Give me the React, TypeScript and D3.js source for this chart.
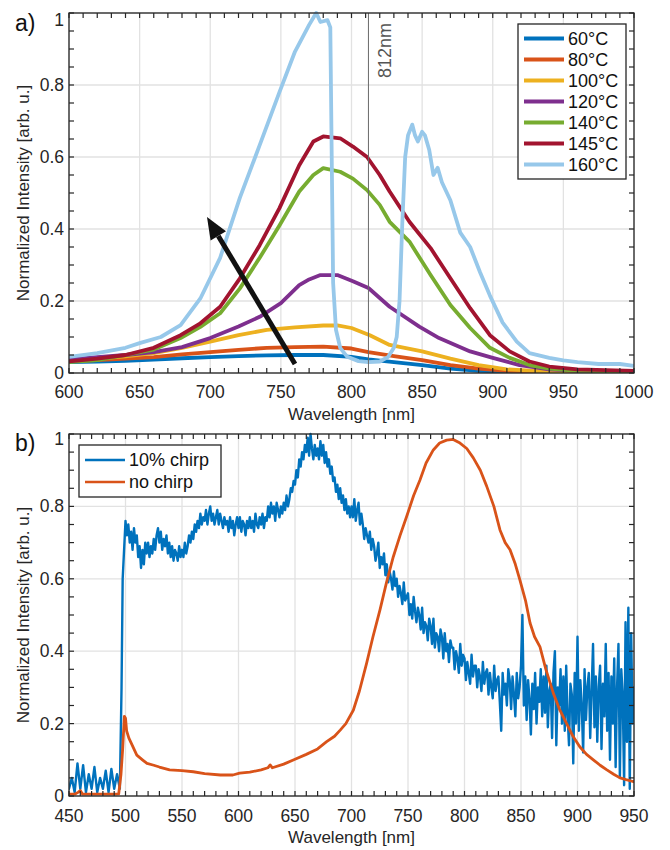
import React from 'react';
import * as d3 from 'd3';

type Pt = [number, number];

const FONT = "'Liberation Sans', Arial, Helvetica, sans-serif";

// ---------- Panel a data ----------
const TEMP_LABELS = ['60°C', '80°C', '100°C', '120°C', '140°C', '145°C', '160°C'];
const TEMP_COLORS = ['#0072BD', '#D95319', '#EDB120', '#7E2F8E', '#77AC30', '#A2142F', '#97C8EA'];

const T60: Pt[] = [[600,0.03],[620,0.032],[640,0.034],[660,0.037],[680,0.041],[700,0.044],[720,0.047],[740,0.049],[760,0.05],[780,0.05],[800,0.045],[812,0.038],[830,0.03],[850,0.022],[870,0.012],[890,0.006],[920,0.003],[950,0.002],[1000,0.002]];
const T80: Pt[] = [[600,0.033],[620,0.036],[640,0.04],[660,0.044],[680,0.052],[700,0.058],[720,0.064],[740,0.07],[760,0.072],[780,0.073],[800,0.068],[812,0.058],[830,0.047],[850,0.036],[870,0.022],[890,0.012],[910,0.006],[940,0.003],[1000,0.002]];
const T100: Pt[] = [[600,0.035],[620,0.04],[640,0.046],[660,0.055],[680,0.07],[700,0.087],[720,0.105],[740,0.12],[760,0.127],[780,0.132],[790,0.132],[800,0.125],[813,0.105],[827,0.078],[850,0.06],[870,0.04],[890,0.022],[910,0.01],[940,0.004],[1000,0.002]];
const T120: Pt[] = [[600,0.038],[620,0.044],[640,0.05],[660,0.058],[680,0.072],[700,0.097],[720,0.129],[735,0.156],[750,0.194],[763,0.244],[770,0.26],[778,0.272],[790,0.272],[801,0.255],[812,0.236],[827,0.184],[848,0.129],[862,0.097],[884,0.06],[900,0.042],[919,0.022],[940,0.01],[970,0.004],[1000,0.003]];
const T140: Pt[] = [[600,0.03],[620,0.036],[640,0.05],[660,0.065],[679,0.097],[693,0.128],[707,0.166],[721,0.235],[735,0.32],[749,0.41],[763,0.504],[773,0.55],[780,0.569],[792,0.559],[801,0.54],[811,0.508],[820,0.467],[827,0.42],[841,0.365],[856,0.272],[870,0.189],[884,0.125],[898,0.07],[912,0.042],[926,0.022],[940,0.012],[960,0.006],[1000,0.004]];
const T145: Pt[] = [[600,0.032],[620,0.04],[640,0.05],[660,0.07],[679,0.105],[693,0.138],[707,0.184],[721,0.263],[735,0.355],[749,0.458],[763,0.577],[773,0.643],[780,0.657],[792,0.652],[801,0.629],[811,0.6],[820,0.55],[827,0.504],[841,0.42],[856,0.347],[870,0.263],[884,0.18],[898,0.105],[912,0.06],[926,0.032],[940,0.018],[960,0.01],[1000,0.006]];
const T160: Pt[] = [[600,0.045],[620,0.055],[640,0.07],[650,0.083],[665,0.1],[679,0.133],[693,0.207],[707,0.32],[721,0.487],[735,0.633],[749,0.78],[760,0.893],[770,0.967],[775,1.0],[778,0.975],[783,0.98],[785,0.96],[786,0.6],[787,0.25],[789,0.12],[792,0.07],[797,0.045],[805,0.033],[812,0.03],[820,0.032],[826,0.045],[830,0.07],[832,0.1],[834,0.2],[836,0.42],[838,0.6],[840,0.66],[843,0.69],[845,0.66],[847,0.643],[850,0.67],[852,0.66],[855,0.62],[858,0.55],[861,0.57],[864,0.53],[870,0.48],[877,0.39],[884,0.35],[891,0.28],[898,0.215],[907,0.14],[917,0.087],[926,0.055],[940,0.042],[950,0.035],[960,0.03],[975,0.025],[990,0.025],[1000,0.02]];
const TEMP_SERIES = [T60, T80, T100, T120, T140, T145, T160];

const A_XTICKS = [600, 650, 700, 750, 800, 850, 900, 950, 1000];
const MARK_NM = 812;
const MARK_LABEL = '812nm';
const ARROW_FROM: Pt = [760, 0.025];
const ARROW_TO: Pt = [697.7, 0.433];

// ---------- Panel b data ----------
const CHIRP_LABELS = ['10% chirp', 'no chirp'];
const CHIRP_COLORS = ['#0072BD', '#D95319'];
const B_XTICKS = [450, 500, 550, 600, 650, 700, 750, 800, 850, 900, 950];

// 10% chirp, 450–497.5 nm (read as pairs)
const CHIRP10_EDGE: Pt[] = [
[450,0.02],[452.5,0.05],[455,0.01],[457.5,0.09],[460,0.02],[462.5,0.085],[465,0.01],[467.5,0.06],[470,0.02],[472.5,0.08],[475,0.01],[477.5,0.05],[480,0.02],[482.5,0.07],[485,0.01],[487.5,0.075],[490,0.02],[492.5,0.06],[495,0.02],[496.5,0.3],[497.5,0.6]
];
// 10% chirp, 500–950 nm read every 1.25 nm
const CHIRP10_FROM = 500;
const CHIRP10_STEP = 1.25;
const CHIRP10_VALUES = [
.76,.72,.75,.7,.73,.68,.74,.7,
.72,.66,.69,.63,.68,.64,.7,.67,
.7,.66,.69,.67,.71,.68,.72,.74,
.7,.73,.68,.71,.69,.72,.67,.7,
.66,.69,.65,.68,.67,.65,.69,.66,
.68,.66,.7,.67,.69,.72,.7,.73,
.71,.75,.73,.76,.74,.78,.75,.77,
.76,.79,.75,.78,.8,.76,.78,.75,
.77,.79,.75,.78,.76,.74,.77,.75,
.76,.73,.77,.74,.76,.72,.75,.77,
.74,.77,.73,.76,.75,.72,.76,.74,
.77,.74,.76,.73,.78,.75,.74,.77,
.75,.78,.74,.77,.76,.8,.77,.81,
.78,.8,.76,.81,.79,.77,.8,.78,
.81,.79,.83,.8,.82,.85,.84,.87,
.86,.9,.88,.93,.91,.95,.93,.97,
.95,.99,.94,1.0,.96,.93,.97,.94,
.96,.93,.98,.94,.97,.92,.95,.91,
.93,.89,.91,.87,.88,.84,.86,.82,
.85,.81,.83,.79,.82,.78,.8,.77,
.8,.77,.82,.76,.79,.81,.75,.78,
.75,.71,.74,.72,.7,.73,.68,.71,
.69,.65,.67,.7,.63,.66,.64,.67,
.61,.64,.59,.62,.6,.57,.62,.58,
.6,.55,.58,.56,.53,.59,.54,.55,
.56,.5,.53,.49,.55,.51,.48,.52,
.5,.46,.52,.45,.48,.47,.43,.49,
.47,.42,.49,.41,.45,.44,.4,.46,
.44,.38,.45,.4,.42,.37,.43,.41,
.41,.35,.4,.38,.34,.42,.36,.39,
.38,.32,.37,.34,.31,.39,.33,.36,
.36,.3,.35,.33,.29,.37,.31,.34,
.35,.28,.34,.3,.27,.36,.29,.32,
.33,.26,.18,.34,.28,.31,.25,.35,
.32,.24,.33,.28,.22,.34,.27,.3,
.36,.5,.25,.33,.21,.32,.27,.17,
.31,.24,.34,.2,.3,.26,.35,.22,
.33,.23,.36,.19,.29,.31,.16,.34,
.4,.14,.3,.25,.35,.2,.33,.18,
.36,.22,.14,.31,.28,.09,.34,.2,
.44,.18,.32,.25,.12,.35,.21,.3,
.34,.16,.29,.42,.19,.33,.15,.3,
.36,.13,.31,.22,.42,.18,.34,.1,
.33,.2,.38,.08,.3,.42,.05,.35,
.28,.03,.48,.15,.52,.02,.45,.2,
.3
];

const NOCHIRP: Pt[] = [[450,0.005],[455,0.005],[458,0.01],[460,0.015],[462,0.005],[470,0.005],[480,0.005],[490,0.005],[494,0.006],[496,0.06],[497.5,0.13],[499,0.22],[500,0.215],[501,0.18],[503,0.16],[506,0.14],[510,0.113],[515,0.1],[519,0.09],[525,0.085],[530,0.08],[539,0.072],[550,0.07],[560,0.067],[570,0.062],[584,0.058],[595,0.058],[601,0.063],[610,0.066],[620,0.072],[626,0.078],[628,0.086],[630,0.078],[640,0.088],[649,0.1],[660,0.115],[670,0.13],[678,0.15],[685,0.165],[690,0.182],[695,0.2],[701.6,0.237],[707,0.29],[713.4,0.367],[719,0.44],[725.2,0.514],[731,0.59],[737,0.661],[743,0.72],[748.8,0.772],[755,0.83],[760.6,0.873],[766,0.92],[772.4,0.956],[778,0.975],[784.2,0.983],[790,0.985],[796,0.975],[802,0.96],[807.8,0.934],[814,0.9],[819.6,0.856],[826,0.8],[831.4,0.735],[836,0.7],[840.3,0.68],[845,0.64],[849,0.597],[854,0.54],[858,0.478],[862,0.44],[866.8,0.412],[872,0.35],[878.6,0.284],[884,0.24],[890.4,0.2],[896,0.165],[902,0.136],[908,0.115],[914,0.1],[920,0.085],[926,0.072],[932,0.06],[937.6,0.05],[943,0.045],[949,0.04],[950,0.04]];

const Y_TICKS = [0, 0.2, 0.4, 0.6, 0.8, 1];
const Y_TICK_LABELS = ['0', '0.2', '0.4', '0.6', '0.8', '1'];
const X_LABEL = 'Wavelength [nm]';
const Y_LABEL = 'Normalized Intensity [arb. u.]';

type Series = { data: Pt[]; color: string; width: number; label: string };

type PanelProps = {
  id: string;
  box: { left: number; top: number; right: number; bottom: number };
  xDomain: [number, number];
  xTicks: number[];
  series: Series[];
  tag: string;
  tagY: number;
  tickLabelY: number;
  xLabelY: number;
  topLabelShift: number;
  legend: { x: number; y: number; w: number; rowH: number; lineLen: number; lineW: number };
  extra?: (x: d3.ScaleLinear<number, number>, y: d3.ScaleLinear<number, number>) => React.ReactNode;
};

function Panel(p: PanelProps) {
  const { left, top, right, bottom } = p.box;
  const x = d3.scaleLinear().domain(p.xDomain).range([left, right]);
  const y = d3.scaleLinear().domain([0, 1]).range([bottom, top]);
  const line = d3.line<Pt>().x(d => x(d[0])).y(d => y(d[1]));
  const xMinor = d3.range(p.xDomain[0], p.xDomain[1] + 0.001, 10);
  const yMinor = d3.range(0, 1.0001, 0.05);
  const tl = 5;
  const axisColor = '#262626';
  const clipId = `clip-${p.id}`;
  const lg = p.legend;
  const legH = lg.rowH * p.series.length + 8;
  return (
    <g>
      <defs>
        <clipPath id={clipId}>
          <rect x={left} y={top - 2} width={right - left} height={bottom - top + 2} />
        </clipPath>
      </defs>
      <rect x={left} y={top} width={right - left} height={bottom - top} fill="#fff" />
      {p.xTicks.map(t => (
        <line key={'gx' + t} x1={x(t)} x2={x(t)} y1={top} y2={bottom} stroke="#e2e2e2" strokeWidth={1.3} />
      ))}
      {Y_TICKS.map(t => (
        <line key={'gy' + t} x1={left} x2={right} y1={y(t)} y2={y(t)} stroke="#e2e2e2" strokeWidth={1.3} />
      ))}
      <g clipPath={`url(#${clipId})`}>
        {p.series.map((s, i) => (
          <path key={i} d={line(s.data) || ''} fill="none" stroke={s.color} strokeWidth={s.width} strokeLinejoin="round" strokeLinecap="round" />
        ))}
      </g>
      {p.extra && p.extra(x, y)}
      <rect x={left} y={top} width={right - left} height={bottom - top} fill="none" stroke={axisColor} strokeWidth={1.3} />
      {xMinor.map(t => (
        <g key={'tx' + t}>
          <line x1={x(t)} x2={x(t)} y1={bottom} y2={bottom - tl} stroke={axisColor} strokeWidth={1.2} />
          <line x1={x(t)} x2={x(t)} y1={top} y2={top + tl} stroke={axisColor} strokeWidth={1.2} />
        </g>
      ))}
      {yMinor.map(t => (
        <g key={'ty' + t}>
          <line x1={left} x2={left + tl} y1={y(t)} y2={y(t)} stroke={axisColor} strokeWidth={1.2} />
          <line x1={right} x2={right - tl} y1={y(t)} y2={y(t)} stroke={axisColor} strokeWidth={1.2} />
        </g>
      ))}
      {p.xTicks.map(t => (
        <text key={'lx' + t} x={x(t)} y={p.tickLabelY} textAnchor="middle" fontSize={17.5} fill={axisColor} fontFamily={FONT}>
          {t}
        </text>
      ))}
      {Y_TICKS.map((t, i) => (
        <text key={'ly' + t} x={left - 5} y={y(t) + (t === 1 ? p.topLabelShift : 0)} textAnchor="end" dominantBaseline="central" fontSize={17.5} fill={axisColor} fontFamily={FONT}>
          {Y_TICK_LABELS[i]}
        </text>
      ))}
      <text x={(left + right) / 2} y={p.xLabelY} textAnchor="middle" fontSize={17} fill={axisColor} fontFamily={FONT}>
        {X_LABEL}
      </text>
      <text transform={`translate(29,${(top + bottom) / 2}) rotate(-90)`} textAnchor="middle" fontSize={17} fill={axisColor} fontFamily={FONT}>
        {Y_LABEL}
      </text>
      <text x={15} y={p.tagY} fontSize={23} fill="#111" fontFamily={FONT}>
        {p.tag}
      </text>
      <g>
        <rect x={lg.x} y={lg.y} width={lg.w} height={legH} fill="#fff" stroke={axisColor} strokeWidth={1.3} />
        {p.series.map((s, i) => {
          const cy = lg.y + 4 + lg.rowH * (i + 0.5);
          return (
            <g key={'lg' + i}>
              <line x1={lg.x + 6} x2={lg.x + 6 + lg.lineLen} y1={cy} y2={cy} stroke={s.color} strokeWidth={lg.lineW} />
              <text x={lg.x + 10 + lg.lineLen} y={cy} dominantBaseline="central" fontSize={18} fill="#111" fontFamily={FONT}>
                {s.label}
              </text>
            </g>
          );
        })}
      </g>
    </g>
  );
}

export default function App() {
  const seriesA: Series[] = TEMP_SERIES.map((d, i) => ({ data: d, color: TEMP_COLORS[i], width: 3.8, label: TEMP_LABELS[i] }));
  const chirp10: Pt[] = CHIRP10_EDGE.concat(
    CHIRP10_VALUES.map((v, i) => [CHIRP10_FROM + i * CHIRP10_STEP, v] as Pt)
  );
  const seriesB: Series[] = [
    { data: chirp10, color: CHIRP_COLORS[0], width: 2.4, label: CHIRP_LABELS[0] },
    { data: NOCHIRP, color: CHIRP_COLORS[1], width: 2.8, label: CHIRP_LABELS[1] },
  ];
  return (
    <svg width={670} height={850} style={{ position: 'absolute', left: 0, top: 0, background: '#fff' }}>
      <rect width={670} height={850} fill="#fff" />
      <Panel
        id="a"
        box={{ left: 69, top: 13, right: 634, bottom: 373 }}
        xDomain={[600, 1000]}
        xTicks={A_XTICKS}
        series={seriesA}
        tag="a)"
        tagY={31}
        tickLabelY={398}
        xLabelY={420}
        topLabelShift={7}
        legend={{ x: 518, y: 24, w: 108, rowH: 21, lineLen: 40, lineW: 4 }}
        extra={(x, y) => {
          const fx = x(ARROW_FROM[0]), fy = y(ARROW_FROM[1]);
          const tx = x(ARROW_TO[0]), ty = y(ARROW_TO[1]);
          const ang = Math.atan2(ty - fy, tx - fx);
          const hl = 22, hw = 9;
          const bx = tx - hl * Math.cos(ang), by = ty - hl * Math.sin(ang);
          const px = -Math.sin(ang), py = Math.cos(ang);
          return (
            <g>
              <line x1={x(MARK_NM)} x2={x(MARK_NM)} y1={y(1)} y2={y(0)} stroke="#6a6a6a" strokeWidth={1} />
              <text transform={`translate(391,23) rotate(-90)`} textAnchor="end" fontSize={18} fill="#555" fontFamily={FONT}>
                {MARK_LABEL}
              </text>
              <line x1={fx} y1={fy} x2={bx} y2={by} stroke="#111" strokeWidth={5} />
              <polygon points={`${tx},${ty} ${bx + px * hw},${by + py * hw} ${bx - px * hw},${by - py * hw}`} fill="#111" />
            </g>
          );
        }}
      />
      <Panel
        id="b"
        box={{ left: 69, top: 434, right: 634, bottom: 796 }}
        xDomain={[450, 950]}
        xTicks={B_XTICKS}
        series={seriesB}
        tag="b)"
        tagY={451}
        tickLabelY={822}
        xLabelY={843}
        topLabelShift={5}
        legend={{ x: 79, y: 445, w: 142, rowH: 22, lineLen: 40, lineW: 2.5 }}
      />
    </svg>
  );
}
